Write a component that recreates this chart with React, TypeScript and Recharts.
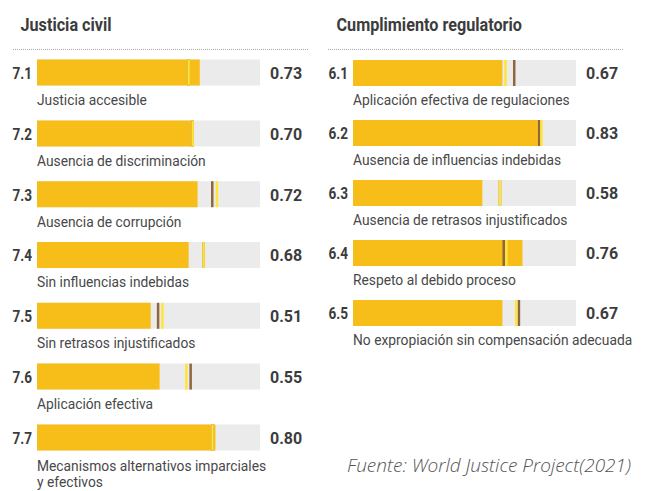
import React from "react";
import { BarChart, Bar, XAxis, YAxis } from "recharts";

// Justicia civil (factor 7)
const civilCodes = ["7.1", "7.2", "7.3", "7.4", "7.5", "7.6", "7.7"];
const civilLabels = [
  "Justicia accesible",
  "Ausencia de discriminación",
  "Ausencia de corrupción",
  "Sin influencias indebidas",
  "Sin retrasos injustificados",
  "Aplicación efectiva",
  "Mecanismos alternativos imparciales\ny efectivos",
];
const civilScores = [0.73, 0.7, 0.72, 0.68, 0.51, 0.55, 0.8];
const civilYellow = [0.68, 0.698, 0.807, 0.747, 0.562, 0.67, 0.787];
const civilBrown = [0.68, 0.698, 0.786, 0.747, 0.543, 0.689, 0.787];

// Cumplimiento regulatorio (factor 6)
const regCodes = ["6.1", "6.2", "6.3", "6.4", "6.5"];
const regLabels = [
  "Aplicación efectiva de regulaciones",
  "Ausencia de influencias indebidas",
  "Ausencia de retrasos injustificados",
  "Respeto al debido proceso",
  "No expropiación sin compensación adecuada",
];
const regScores = [0.67, 0.83, 0.58, 0.76, 0.67];
const regYellow = [0.684, 0.845, 0.659, 0.688, 0.732];
const regBrown = [0.723, 0.835, 0.659, 0.676, 0.744];

const BAR = "#F7BE1A";
const TRACK = "#EBEBEB";
const YELLOW = "#FFE43A";
const BROWN = "#8E6640";
const TEXT = "#3c3c3c";

const build = (codes: string[], labels: string[], scores: number[], yellow: number[], brown: number[]) =>
  codes.map((code, i) => ({ code, label: labels[i], score: scores[i], yellow: yellow[i], brown: brown[i] }));

const civilData = build(civilCodes, civilLabels, civilScores, civilYellow, civilBrown);
const regData = build(regCodes, regLabels, regScores, regYellow, regBrown);

const Marker = (color: string) => (props: any) => {
  const { x, y, width, height } = props;
  return <rect x={x + width - 1.25} y={y} width={2.5} height={height} fill={color} />;
};

const LeftTick = (data: any[]) => (props: any) => {
  const { x, y, index } = props;
  const row = data[index];
  const lines = row.label.split("\n");
  const first = lines.length > 1 ? 33 : 32;
  return (
    <g fontFamily="Roboto">
      <text
        transform={`translate(${x - 5},${y + 6}) scale(0.85,1)`}
        textAnchor="end"
        fontSize={16}
        fontWeight={700}
        fill={TEXT}
      >
        {row.code}
      </text>
      {lines.map((l: string, k: number) => (
        <text key={k} transform={`translate(${x},${y + first + k * 16}) scale(0.92,1)`} fontSize={15} fill="#484848">
          {l}
        </text>
      ))}
    </g>
  );
};

const RightTick = (data: any[]) => (props: any) => {
  const { x, y, index } = props;
  return (
    <text x={x + 10} y={y + 6} fontFamily="Roboto" fontSize={16} fontWeight={700} fill={TEXT}>
      {data[index].score.toFixed(2)}
    </text>
  );
};

const Panel = ({ data, height, top, bottom, width }: any) => (
  <BarChart
    width={width}
    height={height}
    data={data}
    layout="vertical"
    margin={{ top, bottom, left: 0, right: 0 }}
    style={{ overflow: "visible" }}
  >
    <XAxis type="number" domain={[0, 1]} hide />
    <YAxis
      yAxisId="main"
      type="category"
      dataKey="code"
      width={37}
      axisLine={false}
      tickLine={false}
      tickSize={0}
      tickMargin={0}
      interval={0}
      tick={LeftTick(data)}
    />
    <YAxis
      yAxisId="val"
      orientation="right"
      type="category"
      dataKey="code"
      width={width - 260}
      axisLine={false}
      tickLine={false}
      tickSize={0}
      tickMargin={0}
      interval={0}
      tick={RightTick(data)}
    />
    <YAxis yAxisId="mark" type="category" dataKey="code" hide />
    <Bar yAxisId="main" dataKey="score" fill={BAR} barSize={26} background={{ fill: TRACK }} isAnimationActive={false} />
    <Bar yAxisId="val" dataKey="brown" barSize={26} shape={Marker(BROWN)} isAnimationActive={false} />
    <Bar yAxisId="mark" dataKey="yellow" barSize={26} shape={Marker(YELLOW)} isAnimationActive={false} />
  </BarChart>
);

export default function App() {
  return (
    <div style={{ position: "fixed", left: 0, top: 0, width: 646, height: 491, background: "#fff", overflow: "hidden" }}>
      <div style={{ position: "absolute", left: 0, top: 0 }}>
        <Panel data={civilData} width={320} height={491} top={42.6} bottom={22.8} />
      </div>
      <div style={{ position: "absolute", left: 316, top: 0 }}>
        <Panel data={regData} width={330} height={360} top={43} bottom={17} />
      </div>
      <svg width={646} height={491} style={{ position: "absolute", left: 0, top: 0, pointerEvents: "none" }}>
        <g fontFamily="Roboto" fontSize={18} fontWeight={700} fill={TEXT}>
          <text transform="translate(20.5,30.7) scale(0.9,1)">Justicia civil</text>
          <text transform="translate(336.5,30.7) scale(0.9,1)">Cumplimiento regulatorio</text>
        </g>
        <line x1={13} x2={308} y1={49.5} y2={49.5} stroke="#a8a8a8" strokeDasharray="1 1" />
        <line x1={328} x2={624} y1={49.5} y2={49.5} stroke="#a8a8a8" strokeDasharray="1 1" />
        <text x={347} y={471.5} fontFamily="Open Sans" fontStyle="italic" fontWeight={300} fontSize={19} fill="#555">
          Fuente: World Justice Project(2021)
        </text>
      </svg>
    </div>
  );
}
